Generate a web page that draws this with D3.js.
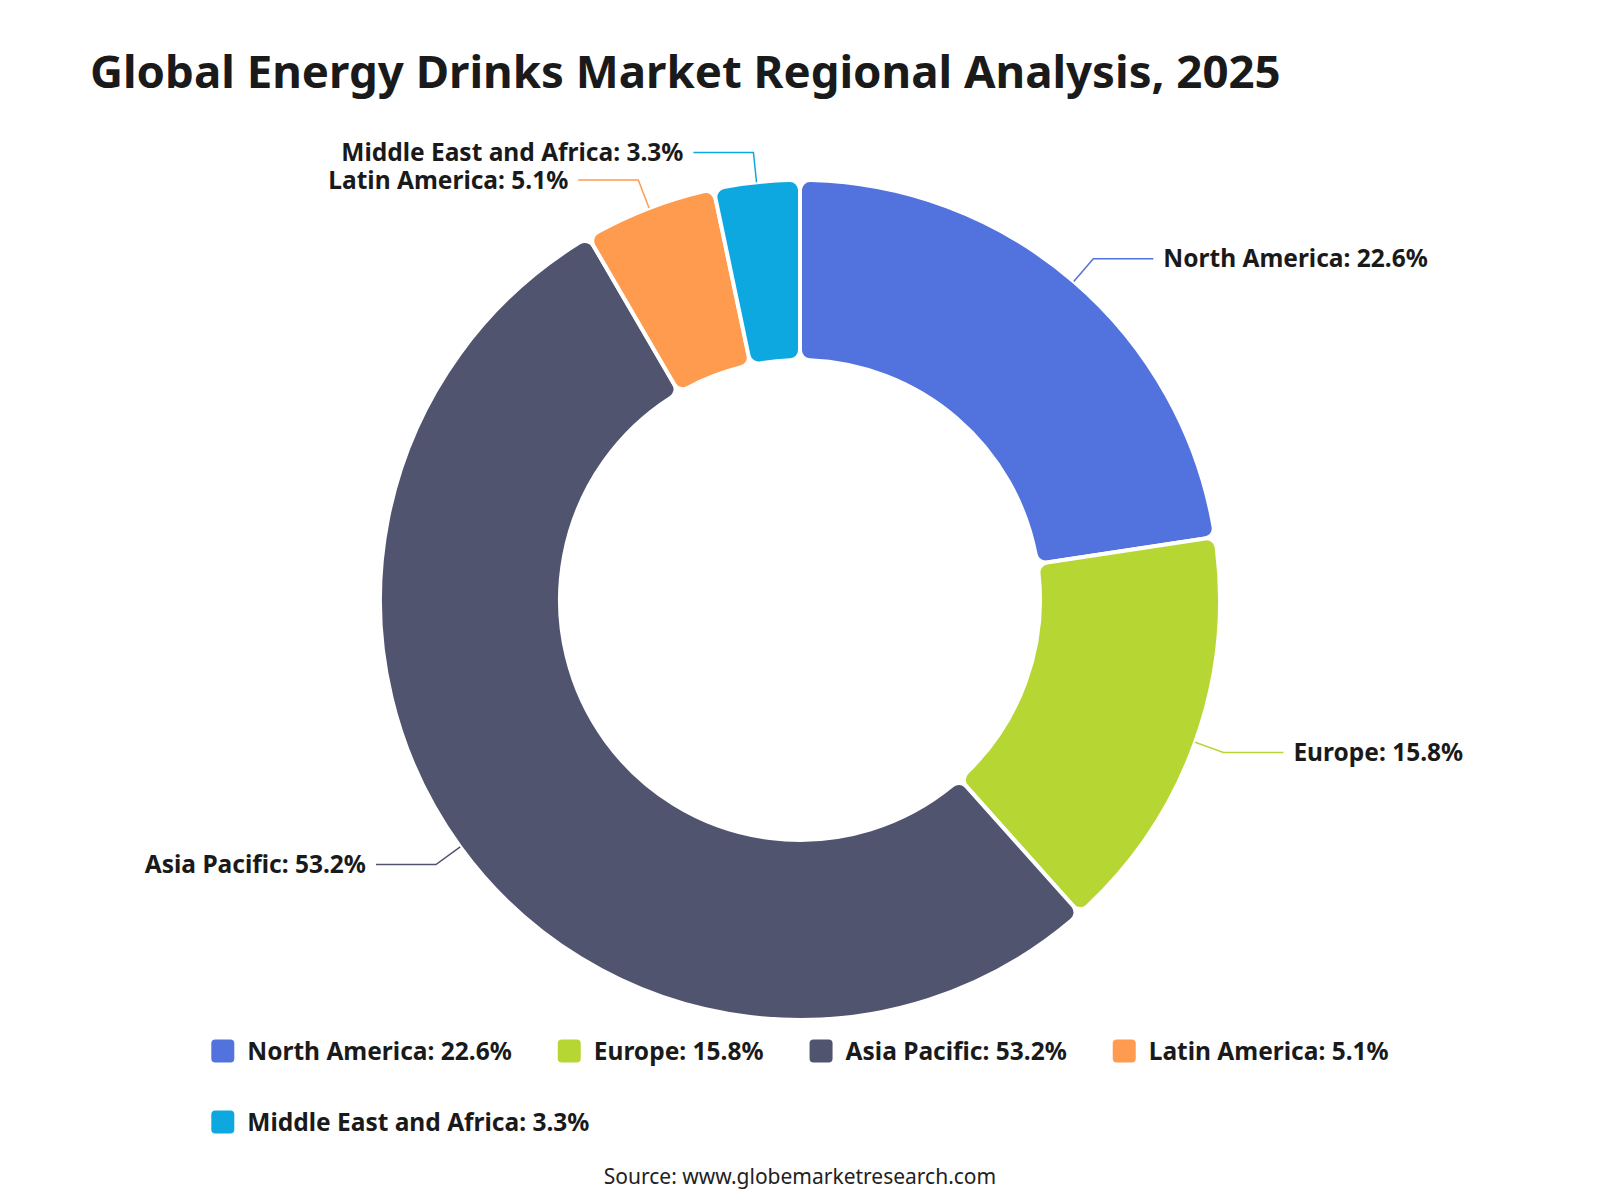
<!DOCTYPE html>
<html>
<head>
<meta charset="utf-8">
<script src="https://cdn.jsdelivr.net/npm/d3@7"></script>
<style>
  body { margin: 0; background: #fff; }
  svg { display: block; font-family: "Noto Sans", sans-serif; }
</style>
</head>
<body>
<script>
// chart data
var regions = ["North America", "Europe", "Asia Pacific", "Latin America", "Middle East and Africa"];
var shares = [22.6, 15.8, 53.2, 5.1, 3.3];
var colors = ["#5272de", "#b6d733", "#51546f", "#ff9b4e", "#0ea8e0"];

var width = 1600, height = 1200;
var cx = 800, cy = 600;
var outerR = 420, innerR = 240;
var labelSize = 24.5;

var svg = d3.select("body").append("svg")
    .attr("width", width)
    .attr("height", height);

// Title
svg.append("text")
    .attr("x", 90)
    .attr("y", 88)
    .attr("font-size", 45.6)
    .attr("font-weight", 700)
    .attr("fill", "#1a1a1a")
    .text("Global Energy Drinks Market Regional Analysis, 2025");

var data = regions.map(function(r, i) {
    return { name: r, value: shares[i], color: colors[i] };
});

var pie = d3.pie()
    .sort(null)
    .value(function(d) { return d.value; });

var arc = d3.arc()
    .innerRadius(innerR)
    .outerRadius(outerR)
    .cornerRadius(10);

var g = svg.append("g")
    .attr("transform", "translate(" + cx + "," + cy + ")");

var arcs = pie(data);

g.selectAll("path.slice")
    .data(arcs)
    .enter()
    .append("path")
    .attr("class", "slice")
    .attr("d", arc)
    .attr("fill", function(d) { return d.data.color; })
    .attr("stroke", "#fff")
    .attr("stroke-width", 4);

// label lines + labels
var len1 = 30, len2 = 60;
arcs.forEach(function(d) {
    var a = (d.startAngle + d.endAngle) / 2;
    var right = Math.sin(a) >= 0;
    var p1 = [Math.sin(a) * outerR, -Math.cos(a) * outerR];
    var p2 = [Math.sin(a) * (outerR + len1), -Math.cos(a) * (outerR + len1)];
    var p3 = [p2[0] + (right ? len2 : -len2), p2[1]];

    g.append("polyline")
        .attr("points", [p1, p2, p3].map(function(p) { return p.join(","); }).join(" "))
        .attr("fill", "none")
        .attr("stroke", d.data.color)
        .attr("stroke-width", 1.5);

    g.append("text")
        .attr("x", p3[0] + (right ? 10 : -10))
        .attr("y", p3[1])
        .attr("dy", "0.35em")
        .attr("text-anchor", right ? "start" : "end")
        .attr("font-size", labelSize)
        .attr("font-weight", 700)
        .attr("fill", "#1a1a1a")
        .text(d.data.name + ": " + d.data.value + "%");
});

// Legend (wraps, centred as a block)
var iconSize = 23, iconGap = 13, itemGap = 46, maxW = 1220, rowH = 71;
var legend = svg.append("g");
var items = data.map(function(d) {
    var it = legend.append("g");
    it.append("rect")
        .attr("width", iconSize)
        .attr("height", iconSize)
        .attr("y", -iconSize / 2)
        .attr("rx", 4)
        .attr("fill", d.color);
    var t = it.append("text")
        .attr("x", iconSize + iconGap)
        .attr("dy", "0.35em")
        .attr("font-size", labelSize)
        .attr("font-weight", 700)
        .attr("fill", "#1a1a1a")
        .text(d.name + ": " + d.value + "%");
    return { g: it, w: iconSize + iconGap + t.node().getComputedTextLength() };
});

var rows = [[]], rowW = [0];
items.forEach(function(it) {
    var r = rows.length - 1;
    var add = (rows[r].length ? itemGap : 0) + it.w;
    if (rows[r].length && rowW[r] + add > maxW) {
        rows.push([it]); rowW.push(it.w);
    } else {
        rows[r].push(it); rowW[r] += add;
    }
});
var blockW = d3.max(rowW);
var x0 = (width - blockW) / 2;
rows.forEach(function(row, ri) {
    var x = x0;
    row.forEach(function(it) {
        it.g.attr("transform", "translate(" + x + "," + (1051 + ri * rowH) + ")");
        x += it.w + itemGap;
    });
});

// Source
svg.append("text")
    .attr("x", width / 2)
    .attr("y", 1184)
    .attr("text-anchor", "middle")
    .attr("font-size", 21)
    .attr("fill", "#222")
    .text("Source: www.globemarketresearch.com");
</script>
</body>
</html>
